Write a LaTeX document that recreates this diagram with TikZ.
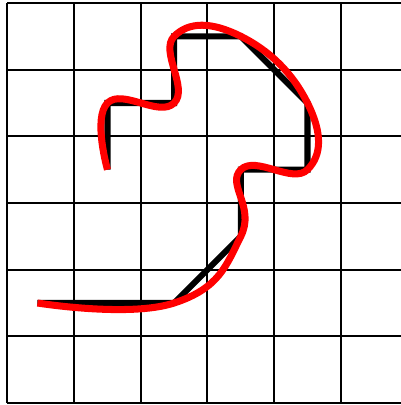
\documentclass[tikz,border=0pt]{standalone}
\usepackage{xcolor}
\usepackage{tikz}

\begin{document}
\begin{tikzpicture}[
    gridline/.style={black, line width=0.85pt},
    polyline/.style={black, line width=2.6pt},
    smoothline/.style={red, line width=3pt}
  ]
    \useasboundingbox (-0.112,-0.03) rectangle (5.9,6.045);
    \draw[gridline] (0,0) grid (6,6);

    % corner path
    \draw[polyline] (0.45,1.5) -- (2.5,1.5) -- (3.5,2.5) -- (3.5,3.5) -- (4.5,3.5) -- (4.5,4.5)
      -- (3.5,5.5) -- (2.5,5.5) -- (2.5,4.5) -- (1.5,4.5) -- (1.5,3.5);
    % smoothed path
    \draw[smoothline] plot[smooth, tension=0.8] coordinates {(0.45,1.5) (2.5,1.5) (3.5,2.5) (3.5,3.5) (4.5,3.5)
      (4.5,4.5) (3.5,5.5) (2.5,5.5) (2.5,4.5) (1.5,4.5) (1.5,3.5)};
\end{tikzpicture}
\end{document}
